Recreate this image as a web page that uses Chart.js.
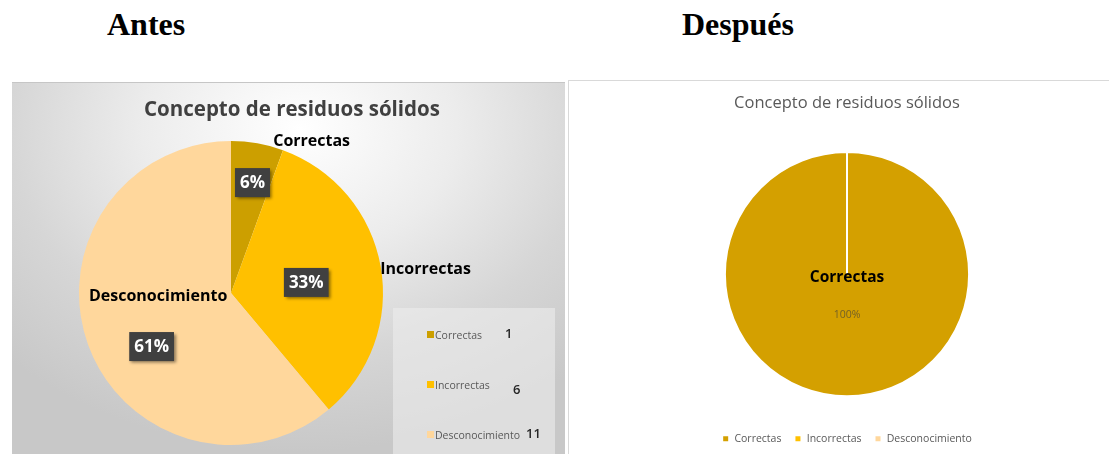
<!DOCTYPE html>
<html>
<head>
<meta charset="utf-8">
<script src="https://cdn.jsdelivr.net/npm/chart.js@4"></script>
<style>
  html, body { margin: 0; padding: 0; }
  body { width: 1109px; height: 454px; overflow: hidden; position: relative; background: #fff; font-family: "Open Sans", sans-serif; }
  .heading { position: absolute; top: 8px; font: bold 32px/32px "Liberation Serif", "Times New Roman", serif; color: #000; }
  #antes { left: 107px; }
  #despues { left: 682px; }
  #leftPanel {
    position: absolute; left: 12px; top: 82px; width: 553px; height: 380px;
    border-top: 1px solid #c6c6c6;
    background: radial-gradient(ellipse 75% 85% at 52% 12%, #ffffff 0%, #ececec 38%, #d6d6d6 70%, #c8c8c8 100%);
  }
  #leftTitle { position: absolute; left: 0; top: 13px; width: 560px; text-align: center; font: bold 20.5px/24px "Open Sans", sans-serif; color: #404040; }
  #c1 { position: absolute; left: 0; top: 0; }
  #legend1 {
    position: absolute; left: 381px; top: 225px; width: 162px; height: 160px;
    background: rgba(236,236,236,0.6); padding-top: 18px; box-sizing: border-box;
  }
  .lrow { position: relative; height: 50px; }
  .lsq { position: absolute; left: 34px; top: 5px; width: 7px; height: 7px; }
  .ltxt { position: absolute; left: 42px; top: 0; font: 10.5px/18px "Open Sans", sans-serif; color: #595959; }
  .lval { position: absolute; top: -2px; font: 600 13px/18px "Open Sans", sans-serif; color: #262626; }
  .lrow:nth-child(1) .lval { left: 112px; }
  .lrow:nth-child(2) .lval { left: 120px; top: 4px; }
  .lrow:nth-child(3) .lval { left: 133px; }
  #rightPanel {
    position: absolute; left: 568px; top: 80px; width: 556px; height: 380px;
    border: 1px solid #d9d9d9; background: #fff;
  }
  #c2 { position: absolute; left: 0; top: 0; }
</style>
</head>
<body>
<div class="heading" id="antes">Antes</div>
<div class="heading" id="despues">Después</div>

<div id="leftPanel">
  <canvas id="c1" width="553" height="372"></canvas>
  <div id="leftTitle">Concepto de residuos sólidos</div>
  <div id="legend1"></div>
</div>

<div id="rightPanel">
  <canvas id="c2" width="556" height="373"></canvas>
</div>

<script>
// data
var categories = ["Correctas", "Incorrectas", "Desconocimiento"];
var antesValues = [1, 6, 11];
var despuesValues = [18, 0, 0];
var chartTitle = "Concepto de residuos sólidos";

var antesColors = ["#CC9F00", "#FFC000", "#FFD79C"];
var despuesColors = ["#D4A000", "#FFC000", "#FFD79C"];

Chart.defaults.font.family = "'Open Sans', sans-serif";

// percent and category labels placed from each arc's own geometry
var sliceLabels = {
  id: "sliceLabels",
  afterDatasetsDraw: function(chart, args, opts) {
    var ctx = chart.ctx;
    var meta = chart.getDatasetMeta(0);
    var values = chart.data.datasets[0].data;
    var total = values.reduce(function(a, b) { return a + b; }, 0);
    meta.data.forEach(function(arc, i) {
      if (!values[i]) return;
      var mid = (arc.startAngle + arc.endAngle) / 2;
      var r = arc.outerRadius;
      function at(p) {
        var ang = mid + p.turn * Math.PI / 180;
        return [arc.x + Math.cos(ang) * r * p.dist, arc.y + Math.sin(ang) * r * p.dist];
      }
      var pct = Math.round(values[i] / total * 100) + "%";
      ctx.save();
      ctx.textAlign = "center";
      ctx.textBaseline = "middle";

      // category name
      var cp = at(opts.cat[i]);
      ctx.font = opts.catFont;
      ctx.fillStyle = "#000";
      ctx.fillText(chart.data.labels[i], cp[0], cp[1]);

      // percent
      var pp = at(opts.pct[i]);
      ctx.font = opts.pctFont;
      if (opts.boxed) {
        var w = ctx.measureText(pct).width + 10;
        var h = 29;
        ctx.save();
        ctx.shadowColor = "rgba(0,0,0,0.45)";
        ctx.shadowBlur = 3;
        ctx.shadowOffsetX = 2;
        ctx.shadowOffsetY = 2;
        ctx.fillStyle = "#404040";
        ctx.fillRect(pp[0] - w / 2, pp[1] - h / 2, w, h);
        ctx.restore();
        ctx.fillStyle = "#fff";
      } else {
        ctx.fillStyle = opts.pctColor;
      }
      ctx.fillText(pct, pp[0], pp[1] + 1);
      ctx.restore();
    });
  }
};

// Antes
new Chart("c1", {
  type: "pie",
  data: {
    labels: categories,
    datasets: [{
      data: antesValues,
      backgroundColor: antesColors,
      borderWidth: 0,
      hoverOffset: 0
    }]
  },
  options: {
    responsive: false,
    animation: false,
    layout: { padding: { left: 67, right: 182, top: 58, bottom: 10 } },
    plugins: {
      legend: { display: false },
      tooltip: { enabled: false },
      sliceLabels: {
        boxed: true,
        catFont: "bold 16px 'Open Sans'",
        pctFont: "bold 17px 'Open Sans'",
        cat: [{ turn: 18, dist: 1.13 }, { turn: 3, dist: 1.29 }, { turn: 17, dist: 0.48 }],
        pct: [{ turn: 1, dist: 0.74 }, { turn: 2, dist: 0.5 }, { turn: -14, dist: 0.63 }]
      }
    }
  },
  plugins: [sliceLabels]
});

// legend for Antes, with counts
var legend1 = document.getElementById("legend1");
categories.forEach(function(name, i) {
  var row = document.createElement("div");
  row.className = "lrow";
  row.innerHTML = '<span class="lsq" style="background:' + antesColors[i] + '"></span>' +
    '<span class="ltxt">' + name + '</span>' +
    '<span class="lval">' + antesValues[i] + '</span>';
  legend1.appendChild(row);
});

// Después
new Chart("c2", {
  type: "pie",
  data: {
    labels: categories,
    datasets: [{
      data: despuesValues,
      backgroundColor: despuesColors,
      borderColor: "#fff",
      borderWidth: 2,
      hoverOffset: 0
    }]
  },
  options: {
    responsive: false,
    animation: false,
    radius: "84%",
    layout: { padding: 0 },
    plugins: {
      title: {
        display: true,
        text: chartTitle,
        color: "#595959",
        font: { size: 16.5, weight: "normal" },
        padding: { top: 12, bottom: 15 }
      },
      legend: {
        position: "bottom",
        labels: {
          boxWidth: 7,
          boxHeight: 7,
          padding: 13,
          color: "#595959",
          font: { size: 10.5 }
        }
      },
      tooltip: { enabled: false },
      sliceLabels: {
        boxed: false,
        catFont: "bold 15.5px 'Open Sans'",
        pctFont: "10.5px 'Open Sans'",
        pctColor: "rgba(60,60,60,0.65)",
        cat: [{ turn: 0, dist: 0.025 }, { turn: 0, dist: 0 }, { turn: 0, dist: 0 }],
        pct: [{ turn: 0, dist: 0.33 }, { turn: 0, dist: 0 }, { turn: 0, dist: 0 }]
      }
    }
  },
  plugins: [sliceLabels]
});
</script>
</body>
</html>
